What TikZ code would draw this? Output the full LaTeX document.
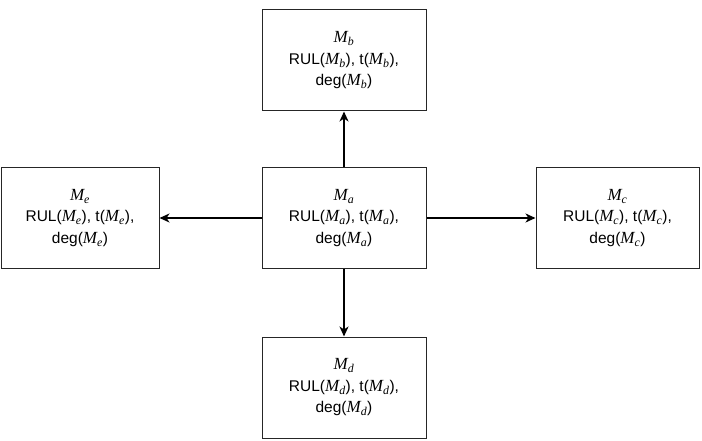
\documentclass[tikz,border=0pt]{standalone}
\usepackage{fontspec}
\setmainfont{Liberation Sans}
\newfontfamily\modserif{Liberation Serif}
\usetikzlibrary{arrows.meta}
\tikzset{
  modbox/.style={draw=black!85, line width=1pt, minimum width=164pt, minimum height=101pt,
    align=center, inner sep=0pt, font=\fontsize{15.5}{21.5}\selectfont},
  link/.style={-{Stealth[length=10pt,width=9pt,inset=3pt]}, line width=1.6pt}
}
\newcommand{\modM}[1]{{\modserif\itshape\fontsize{17}{21.5}\selectfont M\textsubscript{#1}}}
\begin{document}
\begin{tikzpicture}[x=1pt,y=-1pt]
  \useasboundingbox (0,0) rectangle (702,441);
  \draw
    (344,218) node[modbox] (a){\modM{a}\\RUL(\modM{a}), t(\modM{a}),\\deg(\modM{a})}
    (344,60.5) node[modbox] (b){\modM{b}\\RUL(\modM{b}), t(\modM{b}),\\deg(\modM{b})}
    (617.5,218) node[modbox, minimum width=163pt] (c){\modM{c}\\RUL(\modM{c}), t(\modM{c}),\\deg(\modM{c})}
    (344,387.5) node[modbox] (d){\modM{d}\\RUL(\modM{d}), t(\modM{d}),\\deg(\modM{d})}
    (80,218) node[modbox, minimum width=158pt] (e){\modM{e}\\RUL(\modM{e}), t(\modM{e}),\\deg(\modM{e})};
  \begin{scope}[link]
    \draw (a) to (b);
    \draw (a) to (c);
    \draw (a) to (d);
    \draw (a) to (e);
  \end{scope}
\end{tikzpicture}
\end{document}
